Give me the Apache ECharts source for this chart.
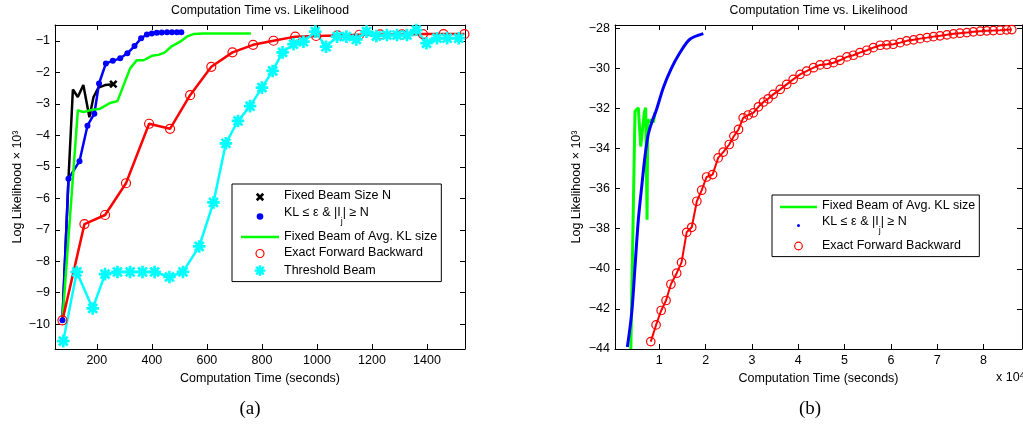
<!DOCTYPE html>
<html><head><meta charset="utf-8">
<script src="https://cdn.jsdelivr.net/npm/echarts@6/dist/echarts.min.js"></script>
<style>html,body{margin:0;padding:0;background:#fff}#c{width:1023px;height:425px}</style>
</head><body><div id="c"></div>
<script>
// ---------- labels ----------
const titleText = 'Computation Time vs. Likelihood';
const xName = 'Computation Time (seconds)';
const yName = 'Log Likelihood \u00d7 10\u00b3';
const N_FIXED = 'Fixed Beam Size N';
const N_KL = 'KL \u2264 \u03b5 & |I_j| \u2265 N';
const N_AVG = 'Fixed Beam of Avg. KL size';
const N_EXACT = 'Exact Forward Backward';
const N_THR = 'Threshold Beam';

// ---------- tick values ----------
const aXTicks = [200, 400, 600, 800, 1000, 1200, 1400];
const aYTicks = [-10, -9, -8, -7, -6, -5, -4, -3, -2, -1];
const bXTicks = [1, 2, 3, 4, 5, 6, 7, 8];
const bYTicks = [-44, -42, -40, -38, -36, -34, -32, -30, -28];

// ---------- panel (a) data: time (s), log likelihood (x10^3) ----------
const aFixedX = [75, 97, 113, 131, 151, 173, 188, 206, 230, 260];
const aFixedY = [-9.88, -5.38, -2.54, -2.78, -2.40, -3.42, -2.78, -2.48, -2.40, -2.37];

const aKLX = [75, 97, 137, 166, 191, 208, 233, 258, 285, 311, 337, 361, 382, 400, 418, 436, 455, 473, 491, 507];
const aKLY = [-9.88, -5.38, -4.82, -3.69, -3.31, -2.35, -1.71, -1.63, -1.55, -1.39, -1.16, -0.91, -0.79, -0.76, -0.74, -0.73, -0.72, -0.72, -0.72, -0.72];

const aAvgX = [75, 131, 151, 176, 212, 248, 275, 321, 345, 370, 400, 424, 446, 470, 503, 527, 551, 588, 633, 694, 760];
const aAvgY = [-9.88, -3.20, -3.26, -3.20, -3.15, -2.97, -2.91, -1.87, -1.61, -1.61, -1.47, -1.44, -1.37, -1.18, -1.02, -0.86, -0.78, -0.76, -0.76, -0.76, -0.76];

const aExactX = [75, 155, 230, 306, 390, 466, 539, 616, 693, 768, 842, 921, 997, 1075, 1154, 1230, 1309, 1385, 1460, 1536];
const aExactY = [-9.88, -6.82, -6.53, -5.52, -3.63, -3.79, -2.72, -1.82, -1.36, -1.12, -0.99, -0.86, -0.84, -0.82, -0.80, -0.79, -0.79, -0.78, -0.78, -0.78];

const aThrX = [78, 127, 185, 230, 275, 321, 366, 410, 464, 513, 572, 624, 669, 713, 757, 800, 839, 875, 915, 951, 994, 1033, 1073, 1107, 1143, 1180, 1216, 1254, 1291, 1327, 1361, 1398, 1436, 1473, 1515];
const aThrY = [-10.54, -8.34, -9.50, -8.41, -8.34, -8.34, -8.34, -8.34, -8.50, -8.34, -7.53, -6.13, -4.25, -3.54, -3.07, -2.48, -1.95, -1.36, -1.10, -1.02, -0.70, -1.18, -0.86, -0.86, -0.95, -0.70, -0.84, -0.81, -0.81, -0.81, -0.65, -1.07, -0.91, -0.91, -0.91];

// ---------- panel (b) data: time (x10^4 s), log likelihood (x10^3) ----------
const bAvgX = [0.385, 0.475, 0.547, 0.598, 0.633, 0.676, 0.706, 0.735, 0.750, 0.800, 0.836, 0.870, 0.907];
const bAvgY = [-44.0, -32.14, -31.97, -33.90, -33.97, -32.20, -31.97, -37.55, -32.55, -32.70, -32.55, -32.70, -32.20];

const bKLX = [0.31, 0.404, 0.475, 0.547, 0.62, 0.69, 0.76, 0.836, 0.94, 1.086, 1.25, 1.45, 1.66, 1.95];
const bKLY = [-43.9, -42.2, -39.9, -37.55, -35.9, -34.4, -33.3, -32.7, -32.05, -30.97, -30.05, -29.2, -28.55, -28.27];

const bExactX = [0.815, 0.93, 1.04, 1.145, 1.25, 1.375, 1.48, 1.59, 1.70, 1.81, 1.915, 2.02, 2.15, 2.27, 2.38, 2.51, 2.61, 2.71, 2.81, 2.92, 3.03, 3.14, 3.25, 3.35, 3.46, 3.61, 3.75, 3.89, 4.04, 4.18, 4.33, 4.47, 4.62, 4.76, 4.90, 5.05, 5.19, 5.33, 5.48, 5.62, 5.77, 5.91, 6.05, 6.20, 6.34, 6.49, 6.63, 6.78, 6.92, 7.06, 7.21, 7.35, 7.49, 7.64, 7.78, 7.93, 8.07, 8.21, 8.36, 8.50, 8.61];
const bExactY = [-43.63, -42.8, -42.08, -41.58, -40.77, -40.22, -39.68, -38.18, -37.93, -36.63, -36.08, -35.42, -35.3, -34.47, -34.18, -33.8, -33.38, -33.05, -32.47, -32.33, -32.22, -31.92, -31.68, -31.52, -31.3, -31.05, -30.8, -30.55, -30.3, -30.14, -29.97, -29.83, -29.8, -29.72, -29.6, -29.43, -29.35, -29.22, -29.1, -28.97, -28.85, -28.83, -28.8, -28.72, -28.63, -28.58, -28.52, -28.47, -28.42, -28.38, -28.33, -28.28, -28.25, -28.22, -28.18, -28.15, -28.13, -28.12, -28.10, -28.08, -28.07];

// ---------- helpers ----------
const zip = (xs, ys) => xs.map((x, i) => [x, ys[i]]);
const FONT = 'Liberation Sans, Arial, sans-serif';
const BLACK = '#000000', BLUE = '#0000ff', GREEN = '#00ff00', RED = '#ff0000', CYAN = '#00ffff';

function rectsPath(angles, L, W, box) {
  const c = box / 2;
  let d = 'M0,0M' + box + ',' + box;
  angles.forEach(a => {
    const r = a * Math.PI / 180, ux = Math.cos(r), uy = Math.sin(r), vx = -uy, vy = ux;
    const pts = [[L, W], [-L, W], [-L, -W], [L, -W]].map(([p, q]) =>
      (c + p * ux + q * vx).toFixed(3) + ',' + (c + p * uy + q * vy).toFixed(3));
    d += 'M' + pts[0] + 'L' + pts[1] + 'L' + pts[2] + 'L' + pts[3] + 'Z';
  });
  return 'path://' + d;
}
function circlePath(r, box) {
  const c = box / 2;
  return 'path://M0,0M' + box + ',' + box + 'M' + (c - r) + ',' + c +
    'A' + r + ',' + r + ' 0 1 0 ' + (c + r) + ',' + c +
    'A' + r + ',' + r + ' 0 1 0 ' + (c - r) + ',' + c + 'Z';
}
const xSym = rectsPath([45, 135], 4.6, 1.3, 12);
const starSym = rectsPath([0, 45, 90, 135], 5.8, 1.25, 12);
const starIcon = rectsPath([0, 45, 90, 135], 5.4, 1.2, 12);
const lineIcon = 'path://M0,0L38,0L38,2.6L0,2.6Z';
const lineIconB = 'path://M0,0L37,0L37,2.6L0,2.6Z';
const minus = v => String(v).replace('-', '\u2212');

function xAxisPair(grid, min, max, ticks) {
  const common = {
    type: 'value', gridIndex: grid, min: min, max: max,
    axisLine: { show: true, onZero: false, lineStyle: { color: BLACK, width: 1 } },
    splitLine: { show: false }
  };
  return [
    Object.assign({}, common, {
      position: 'bottom',
      axisTick: { show: true, inside: true, length: 5, customValues: ticks, lineStyle: { color: BLACK } },
      axisLabel: { show: true, customValues: ticks, margin: 5, color: BLACK, fontSize: 12.5, fontFamily: FONT, formatter: minus },
      name: xName, nameLocation: 'middle', nameGap: 19,
      nameTextStyle: { color: BLACK, fontSize: 12.5, fontFamily: FONT }
    }),
    Object.assign({}, common, {
      position: 'top',
      axisTick: { show: true, inside: true, length: 5, customValues: ticks, lineStyle: { color: BLACK } },
      axisLabel: { show: false }
    })
  ];
}
function yAxisPair(grid, min, max, ticks, nameGap) {
  const common = {
    type: 'value', gridIndex: grid, min: min, max: max,
    axisLine: { show: true, onZero: false, lineStyle: { color: BLACK, width: 1 } },
    splitLine: { show: false }
  };
  return [
    Object.assign({}, common, {
      position: 'left',
      axisTick: { show: true, inside: true, length: 5, customValues: ticks, lineStyle: { color: BLACK } },
      axisLabel: { show: true, customValues: ticks, margin: 5, color: BLACK, fontSize: 12.5, fontFamily: FONT, formatter: minus },
      name: yName, nameLocation: 'middle', nameRotate: 90, nameGap: nameGap,
      nameTextStyle: { color: BLACK, fontSize: 12.5, fontFamily: FONT }
    }),
    Object.assign({}, common, {
      position: 'right',
      axisTick: { show: true, inside: true, length: 5, customValues: ticks, lineStyle: { color: BLACK } },
      axisLabel: { show: false }
    })
  ];
}

const legendText = {
  color: BLACK, fontSize: 12.5, fontFamily: FONT,
  rich: {
    n: { color: BLACK, fontSize: 12.5, fontFamily: FONT, lineHeight: 14, verticalAlign: 'top' },
    s: { color: BLACK, fontSize: 9, fontFamily: FONT, lineHeight: 14, verticalAlign: 'bottom' },
    g: { fontSize: 2, lineHeight: 20, width: 1, verticalAlign: 'top' }
  }
};
const legendFmt = name => name === N_KL
  ? '{n|KL \u2264 \u03b5 & |I}{s|j}{n|| \u2265 N}{g| }'
  : '{n|' + name + '}';
const legendBase = {
  orient: 'vertical', selectedMode: false, itemGap: 3.5, itemHeight: 12,
  backgroundColor: '#ffffff', borderColor: BLACK, borderWidth: 1, borderRadius: 0,
  itemStyle: { borderWidth: 0 }, textStyle: legendText, formatter: legendFmt
};
const hollowRed = { color: 'rgba(0,0,0,0)', borderColor: RED, borderWidth: 1.2 };
const firstRowText = { padding: [0, 0, 2, 0] };

const lastFixed = aFixedX.length - 1;

const option = {
  animation: false,
  backgroundColor: '#ffffff',
  title: [
    { text: titleText, left: 260, top: 5, padding: 0, textAlign: 'center',
      textStyle: { color: BLACK, fontSize: 12.3, fontWeight: 'normal', fontFamily: FONT } },
    { text: titleText, left: 818.5, top: 5, padding: 0, textAlign: 'center',
      textStyle: { color: BLACK, fontSize: 12.3, fontWeight: 'normal', fontFamily: FONT } },
    { text: '(a)', left: 250, top: 400, padding: 0, textAlign: 'center',
      textStyle: { color: BLACK, fontSize: 19, fontWeight: 'normal', fontFamily: 'Liberation Serif, Times New Roman, serif' } },
    { text: '(b)', left: 810, top: 400, padding: 0, textAlign: 'center',
      textStyle: { color: BLACK, fontSize: 19, fontWeight: 'normal', fontFamily: 'Liberation Serif, Times New Roman, serif' } },
    { text: '{n|x 10}{p|4}', left: 996, top: 371, padding: 0,
      textStyle: { color: BLACK, fontWeight: 'normal', fontFamily: FONT, fontSize: 12.5,
        rich: { n: { fontSize: 12.5, fontFamily: FONT, color: BLACK, lineHeight: 14 },
                p: { fontSize: 9, fontFamily: FONT, color: BLACK, lineHeight: 9, verticalAlign: 'top', padding: [0, 0, 12, 0] } } } }
  ],
  grid: [
    { left: 55, top: 25, width: 410, height: 324, containLabel: false, outerBoundsMode: 'none' },
    { left: 615, top: 25, width: 407, height: 324, containLabel: false, outerBoundsMode: 'none' }
  ],
  xAxis: [].concat(xAxisPair(0, 48, 1538, aXTicks), xAxisPair(1, 0.043, 8.83, bXTicks)),
  yAxis: [].concat(yAxisPair(0, -10.79, -0.49, aYTicks, 31), yAxisPair(1, -44, -27.84, bYTicks, 32)),
  legend: [
    Object.assign({}, legendBase, {
      left: 232, top: 184, padding: [5, 4, 5, 9], itemWidth: 38,
      data: [
        { name: N_FIXED, icon: xSym, textStyle: firstRowText },
        { name: N_KL, icon: circlePath(3.3, 12) },
        { name: N_AVG, icon: lineIcon },
        { name: N_EXACT, icon: circlePath(4, 12), itemStyle: hollowRed },
        { name: N_THR, icon: starIcon }
      ]
    }),
    Object.assign({}, legendBase, {
      left: 772, top: 195, padding: [4, 4, 4, 8], itemWidth: 37,
      data: [
        { name: N_AVG, icon: lineIconB, textStyle: firstRowText },
        { name: N_KL, icon: circlePath(1.5, 12) },
        { name: N_EXACT, icon: circlePath(3.8, 12), itemStyle: hollowRed }
      ]
    })
  ],
  series: [
    { name: N_FIXED, type: 'line', xAxisIndex: 0, yAxisIndex: 0, silent: true,
      data: zip(aFixedX, aFixedY),
      symbol: (v, p) => p.dataIndex === lastFixed ? xSym : 'none', symbolSize: 12,
      itemStyle: { color: BLACK }, lineStyle: { color: BLACK, width: 2.5 } },
    { name: N_KL, type: 'line', xAxisIndex: 0, yAxisIndex: 0, silent: true,
      data: zip(aKLX, aKLY), symbol: 'circle', symbolSize: 6,
      itemStyle: { color: BLUE }, lineStyle: { color: BLUE, width: 2.5 } },
    { name: N_AVG, type: 'line', xAxisIndex: 0, yAxisIndex: 0, silent: true,
      data: zip(aAvgX, aAvgY), symbol: 'none',
      itemStyle: { color: GREEN }, lineStyle: { color: GREEN, width: 2.5 } },
    { name: N_EXACT, type: 'line', xAxisIndex: 0, yAxisIndex: 0, silent: true,
      data: zip(aExactX, aExactY), symbol: 'circle', symbolSize: 9,
      itemStyle: hollowRed, lineStyle: { color: RED, width: 2.5 } },
    { name: N_THR, type: 'line', xAxisIndex: 0, yAxisIndex: 0, silent: true,
      data: zip(aThrX, aThrY), symbol: starSym, symbolSize: 13,
      itemStyle: { color: CYAN }, lineStyle: { color: CYAN, width: 2.5 } },

    { name: N_AVG, type: 'line', xAxisIndex: 2, yAxisIndex: 2, silent: true,
      data: zip(bAvgX, bAvgY), symbol: 'none',
      itemStyle: { color: GREEN }, lineStyle: { color: GREEN, width: 3 } },
    { name: N_KL, type: 'line', xAxisIndex: 2, yAxisIndex: 2, silent: true,
      data: zip(bKLX, bKLY), symbol: 'none', smooth: 0.3,
      itemStyle: { color: BLUE }, lineStyle: { color: BLUE, width: 3 } },
    { name: N_EXACT, type: 'line', xAxisIndex: 2, yAxisIndex: 2, silent: true,
      data: zip(bExactX, bExactY), symbol: 'circle', symbolSize: 8.5,
      itemStyle: hollowRed, lineStyle: { color: RED, width: 2 } }
  ]
};

const chart = echarts.init(document.getElementById('c'), null, { renderer: 'canvas' });
chart.setOption(option);
</script>
</body></html>
